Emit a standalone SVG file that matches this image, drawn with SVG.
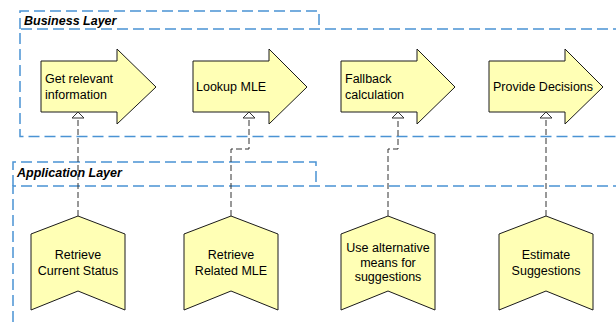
<svg xmlns="http://www.w3.org/2000/svg" width="616" height="323" viewBox="0 0 616 323">
  <style>
    .layer { fill: none; stroke: #4a93d4; stroke-width: 1.5; stroke-dasharray: 11 5; }
    .layer-title { font-family: "Liberation Sans", Arial, sans-serif; font-size: 12.5px; font-weight: bold; font-style: italic; fill: #000; }
    .proc { fill: #ffffb5; stroke: #1a1a1a; stroke-width: 1; }
    .fn { fill: #ffffb5; stroke: #1a1a1a; stroke-width: 1; }
    .lbl { font-family: "Liberation Sans", Arial, sans-serif; font-size: 12.5px; fill: #000; }
    .mid { text-anchor: middle; }
    .link { fill: none; stroke: #333; stroke-width: 1; stroke-dasharray: 6 3; }
  </style>
  <defs>
    <marker id="realize" viewBox="0 0 7 13" refX="6.5" refY="6.5" markerWidth="7" markerHeight="13" markerUnits="userSpaceOnUse" orient="auto">
      <path d="M0.5,0.5 L6.5,6.5 L0.5,12.5 Z" fill="#fff" stroke="#333" stroke-width="1" stroke-dasharray="none"/>
    </marker>
  </defs>

  <rect width="616" height="323" fill="#fff"/>

  <!-- Business layer grouping -->
  <g id="business-layer">
    <path class="layer" d="M20,29 V11 H319 V29"/>
    <path class="layer" d="M640,29 H20 V136.5 H640"/>
    <text class="layer-title" x="24" y="25">Business Layer</text>
  </g>

  <!-- Application layer grouping -->
  <g id="application-layer">
    <path class="layer" d="M13,186 V162 H316 V186"/>
    <path class="layer" d="M640,186 H13 V340"/>
    <text class="layer-title" x="17" y="177">Application Layer</text>
  </g>

  <!-- Business processes -->
  <g id="get-relevant-information">
    <path class="proc" d="M41,61 H117 V49 L156,87 L117,124 V112 H41 Z"/>
    <text class="lbl" x="45" y="83">Get relevant</text>
    <text class="lbl" x="45" y="99">information</text>
  </g>
  <g id="lookup-mle">
    <path class="proc" d="M193,61 H269 V49 L307,87 L269,124 V112 H193 Z"/>
    <text class="lbl" x="196" y="91">Lookup MLE</text>
  </g>
  <g id="fallback-calculation">
    <path class="proc" d="M341,61 H417 V49 L455,87 L417,124 V112 H341 Z"/>
    <text class="lbl" x="345" y="83">Fallback</text>
    <text class="lbl" x="345" y="99">calculation</text>
  </g>
  <g id="provide-decisions">
    <path class="proc" d="M489,61 H565 V49 L603,87 L565,124 V112 H489 Z"/>
    <text class="lbl" x="493" y="91">Provide Decisions</text>
  </g>

  <!-- Application functions -->
  <g id="retrieve-current-status">
    <path class="fn" d="M31,234 L78,216 L125,234 V310 L78,291 L31,310 Z"/>
    <text class="lbl mid" x="78" y="259">Retrieve</text>
    <text class="lbl mid" x="78" y="274.5">Current Status</text>
  </g>
  <g id="retrieve-related-mle">
    <path class="fn" d="M184,234 L231,216 L278,234 V310 L231,291 L184,310 Z"/>
    <text class="lbl mid" x="231" y="259">Retrieve</text>
    <text class="lbl mid" x="231" y="274.5">Related MLE</text>
  </g>
  <g id="use-alternative-means">
    <path class="fn" d="M341,234 L388,216 L435,234 V310 L388,291 L341,310 Z"/>
    <text class="lbl mid" x="388" y="252">Use alternative</text>
    <text class="lbl mid" x="388" y="266.5">means for</text>
    <text class="lbl mid" x="388" y="281">suggestions</text>
  </g>
  <g id="estimate-suggestions">
    <path class="fn" d="M499,234 L546,216 L593,234 V310 L546,291 L499,310 Z"/>
    <text class="lbl mid" x="546" y="259">Estimate</text>
    <text class="lbl mid" x="546" y="274.5">Suggestions</text>
  </g>

  <!-- Realization connectors -->
  <g id="connectors">
    <path class="link" d="M78,216 V112" marker-end="url(#realize)"/>
    <path class="link" d="M231,216 V149 H249 V112" marker-end="url(#realize)"/>
    <path class="link" d="M388,216 V149 H398 V112" marker-end="url(#realize)"/>
    <path class="link" d="M546,216 V112" marker-end="url(#realize)"/>
  </g>
</svg>
